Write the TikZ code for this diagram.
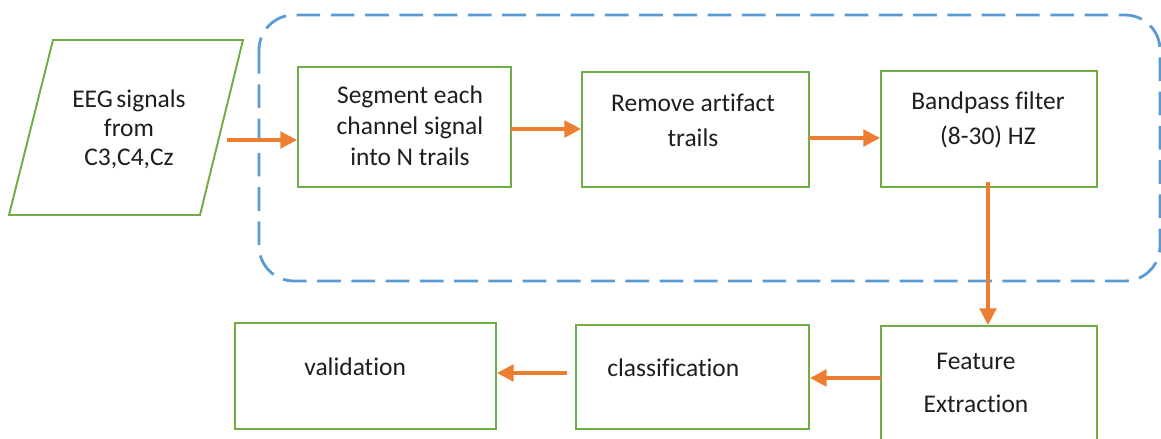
\documentclass[tikz,border=0pt]{standalone}
\usepackage{xcolor}
\usepackage{fontspec}
\setmainfont{Carlito}[Ligatures=NoCommon]
\usepackage{tikz}
\usetikzlibrary{shapes,arrows.meta,positioning,calc}

\definecolor{boxgreen}{RGB}{112,173,71}
\definecolor{flowred}{RGB}{237,125,49}
\definecolor{groupblue}{RGB}{91,155,213}
\definecolor{txtgray}{RGB}{30,30,30}

\tikzset{
    stepbox/.style={
        draw=boxgreen,
        line width=1.1pt,
        inner sep=0pt
    },
    steptext/.style={
        text=txtgray,
        align=center,
        inner sep=0pt,
        font=\fontsize{14.5}{20}\selectfont
    },
    flow/.style={
        draw=flowred,
        line width=1.8pt,
        -{Triangle[length=9.5pt,width=9.5pt]}
    }
}

\begin{document}
\begin{tikzpicture}[x=0.02cm,y=-0.02cm]
                \clip (0,0) rectangle (1161,439);

                \draw[
                    groupblue,
                    line width=1.6pt,
                    dash pattern=on 13.5pt off 6pt,
                    rounded corners=0.7cm
                    ] (259,15) rectangle (1160,281);

                \draw[
                    boxgreen,
                    line width=1.1pt
                    ] (53,40) -- (243,40) -- (200,215) -- (9,215) -- cycle;
                \node[steptext, font=\fontsize{14.5}{16.5}\selectfont] (eeg) at (129,129) {EEG\kern2pt signals\\from\\C3,C4,Cz};
                \coordinate (eegout) at (227,140);

                \node[stepbox, minimum width=4.26cm, minimum height=2.4cm] (seg) at (404.5,127) {};
                \node[steptext, font=\fontsize{14.5}{17.6}\selectfont] (segtxt) at (410,126) {Segment each\\channel signal\\into N trails};
                \coordinate (segout) at (511,129);

                \node[stepbox, minimum width=4.54cm, minimum height=2.3cm] (remove) at (695.5,129.5) {};
                \node[steptext] (removetxt) at (693,120) {Remove artifact\\trails};
                \coordinate (removeout) at (809,138);

                \node[stepbox, minimum width=4.32cm, minimum height=2.32cm] (band) at (989,129) {};
                \node[steptext] (bandtxt) at (988,120) {Bandpass filter\\(8-30) HZ};
                \coordinate (bandout) at (988,182);

                \node[stepbox, minimum width=4.32cm, minimum height=2.48cm] (feat) at (989,388) {};
                \node[steptext, font=\fontsize{14.5}{24.4}\selectfont] (feattxt) at (976,383) {Feature\\Extraction};
                \coordinate (featout) at (881,378);

                \node[stepbox, minimum width=4.66cm, minimum height=2.08cm] (class) at (692.5,377) {};
                \node[steptext, anchor=west] (classtxt) at (607,368) {classification};
                \coordinate (classout) at (567,373);

                \node[stepbox, minimum width=5.22cm, minimum height=2.12cm] (valid) at (365.5,376) {};
                \node[steptext, anchor=west] (validtxt) at (304,367) {validation};

                \draw[flow] (eegout) -- (eegout -| seg.west);
                \draw[flow] (segout) -- (segout -| remove.west);
                \draw[flow] (removeout) -- (removeout -| band.west);
                \draw[flow] (bandout) -- (bandout |- feat.north);
                \draw[flow] (featout) -- (featout -| class.east);
                \draw[flow] (classout) -- (classout -| valid.east);

            \end{tikzpicture}
\end{document}
